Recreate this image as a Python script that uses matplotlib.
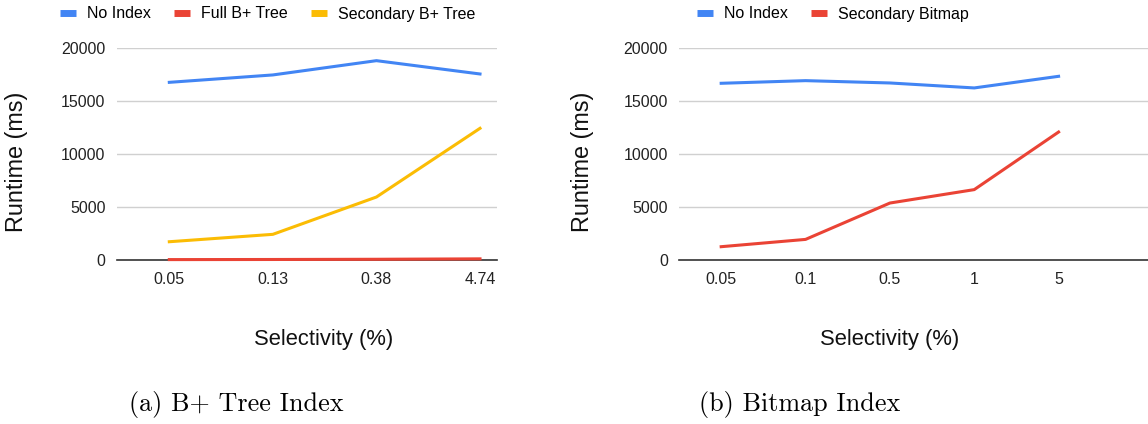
import numpy as np
import matplotlib.pyplot as plt

# (a) B+ tree index
sel_a = ["0.05", "0.13", "0.38", "4.74"]
no_index_a = [16780, 17480, 18830, 17570]
full_btree = [10, 20, 40, 80]
sec_btree = [1700, 2400, 5930, 12430]

# (b) bitmap index
sel_b = ["0.05", "0.1", "0.5", "1", "5"]
no_index_b = [16690, 16940, 16720, 16250, 17350]
sec_bitmap = [1230, 1920, 5360, 6630, 12080]

yticks = [0, 5000, 10000, 15000, 20000]

BLUE = "#4285F4"
RED = "#EA4335"
YELLOW = "#FBBC04"

plt.rcParams['font.family'] = ['Liberation Sans', 'DejaVu Sans']

W, H = 1148, 424
fig = plt.figure(figsize=(W / 100, H / 100), dpi=100)


def px_axes(x0, x1, y0, y1):
    return fig.add_axes([x0 / W, 1 - y1 / H, (x1 - x0) / W, (y1 - y0) / H])


def style(ax, cats, xlim):
    ax.set_ylim(0, 20000)
    ax.set_xlim(*xlim)
    ax.set_yticks(yticks)
    ax.set_yticklabels([str(t) for t in yticks])
    ax.set_xticks(range(len(cats)))
    ax.set_xticklabels(cats)
    ax.tick_params(length=0, labelsize=11.5, colors="#222222")
    ax.tick_params(axis='y', pad=8)
    ax.tick_params(axis='x', pad=9)
    for s in ["top", "right", "left"]:
        ax.spines[s].set_visible(False)
    ax.spines["bottom"].set_color("#333333")
    ax.spines["bottom"].set_linewidth(1.2)
    ax.grid(axis='y', color="#d0d0d0", linewidth=1)
    ax.set_axisbelow(True)


lw = 2.2

ax1 = px_axes(116.7, 497.3, 48.3, 259.7)
x1 = np.arange(len(sel_a))
ax1.plot(x1, no_index_a, color=BLUE, lw=lw, label="No Index", clip_on=False)
ax1.plot(x1, full_btree, color=RED, lw=lw, label="Full B+ Tree", clip_on=False, zorder=3)
ax1.plot(x1, sec_btree, color=YELLOW, lw=lw, label="Secondary B+ Tree", clip_on=False)
style(ax1, sel_a, (-0.508, 3.167))

ax2 = px_axes(679, 1148, 48.3, 259.7)
x2 = np.arange(len(sel_b))
ax2.plot(x2, no_index_b, color=BLUE, lw=lw, label="No Index", clip_on=False)
ax2.plot(x2, sec_bitmap, color=RED, lw=lw, label="Secondary Bitmap", clip_on=False)
style(ax2, sel_b, (-0.5, 5.06))

leg_kw = dict(loc="center left", ncol=3, frameon=False, fontsize=11.5,
              handlelength=1.0, handletextpad=0.7, columnspacing=1.45,
              borderpad=0, borderaxespad=0, bbox_transform=fig.transFigure)
for ax, x0 in [(ax1, 60), (ax2, 697)]:
    leg = ax.legend(bbox_to_anchor=(x0 / W, 1 - 14 / H), **leg_kw)
    for h in leg.get_lines():
        h.set_linewidth(5)
        h.set_solid_capstyle('butt')

for xc, yc in [(17, 162), (583, 162)]:
    fig.text(xc / W, 1 - yc / H, "Runtime (ms)", rotation=90, fontsize=16.8,
             ha="center", va="center", color="#111111")

for xc, txt in [(324, "Selectivity (%)"), (890, "Selectivity (%)")]:
    fig.text(xc / W, 1 - 340 / H, txt, fontsize=15.8, ha="center", va="center",
             color="#111111")

for xc, txt in [(236, "(a) B+ Tree Index"), (800, "(b) Bitmap Index")]:
    fig.text(xc / W, 1 - 405 / H, txt, fontsize=18.8, ha="center", va="center",
             family=["cmr10", "DejaVu Serif"])

fig.savefig("out.png", dpi=100)
